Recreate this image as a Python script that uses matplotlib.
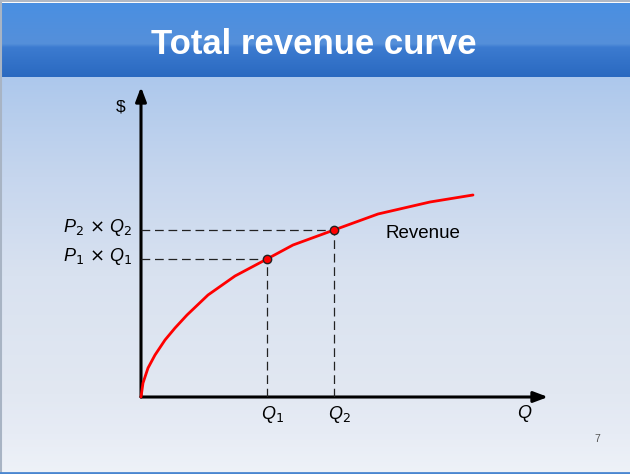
import numpy as np
import matplotlib
matplotlib.use("Agg")
import matplotlib.pyplot as plt
from matplotlib.colors import LinearSegmentedColormap

# ---- data (arbitrary units) ----
quantity = [0, 2, 7, 14, 24, 34, 46, 67, 94, 126, 152, 193, 237, 289, 332]
revenue = [0, 14, 29, 42, 57, 69, 82, 102, 121, 138, 152, 167, 183, 195, 202]
marked_idx = [9, 11]
q_labels = [r"$Q_1$", r"$Q_2$"]
pq_labels = [r"$P_1\,\times\,Q_1$", r"$P_2\,\times\,Q_2$"]
title = "Total revenue curve"
curve_label = "Revenue"

plt.rcParams["font.family"] = ["Liberation Sans", "DejaVu Sans"]
plt.rcParams["mathtext.fontset"] = "custom"
plt.rcParams["mathtext.rm"] = "DejaVu Sans"
plt.rcParams["mathtext.it"] = "Liberation Sans:italic"
plt.rcParams["mathtext.bf"] = "Liberation Sans:bold"

W, H = 630, 474
fig = plt.figure(figsize=(6.3, 4.74), dpi=100)

# ---- background (pixel coordinates) ----
bg = fig.add_axes([0, 0, 1, 1])
bg.set_xlim(0, W)
bg.set_ylim(H, 0)
bg.axis("off")

body_cmap = LinearSegmentedColormap.from_list(
    "body",
    [(0.0, "#adc8ec"), (0.25, "#c6d6ee"), (0.5, "#d9e2f0"), (0.8, "#e2e8f2"),
     (0.9, "#e7ecf5"), (1.0, "#eef2f8")])
grad = np.linspace(0, 1, 256).reshape(-1, 1)
bg.imshow(grad, cmap=body_cmap, extent=[0, W, H, 77], aspect="auto", zorder=0)

title_cmap = LinearSegmentedColormap.from_list(
    "title",
    [(0.0, "#4a8fe2"), (0.55, "#5590da"), (0.6, "#3c7bd0"), (1.0, "#2a69c0")])
bg.imshow(grad, cmap=title_cmap, extent=[0, W, 77, 3], aspect="auto", zorder=1)
bg.set_xlim(0, W)
bg.set_ylim(H, 0)

# borders
bg.plot([1, 1], [0, H], color="#a8b4c4", lw=1.5, zorder=2)
bg.plot([0, W], [1, 1], color="#b0b8c4", lw=1.5, zorder=2)
bg.plot([0, W], [H - 1.5, H - 1.5], color="#4a86d0", lw=2, zorder=2)

bg.text(314, 54, title, color="white", fontsize=25, fontweight="bold",
        ha="center", va="baseline", zorder=3)
bg.text(121, 107, "$", fontsize=12.5, ha="center", va="center", zorder=3)
bg.text(525, 418, r"$Q$", fontsize=13, ha="center", va="baseline", zorder=3)
bg.text(597, 442, "7", fontsize=7.5, color="#555555", ha="center",
        va="baseline", zorder=3)

# ---- chart axes ----
x0, y0 = 141, 397
x1, y1 = 548, 87
ax = fig.add_axes([x0 / W, (H - y0) / H, (x1 - x0) / W, (y0 - y1) / H])
ax.set_xlim(0, x1 - x0)
ax.set_ylim(0, y0 - y1)
ax.axis("off")
ax.patch.set_alpha(0)

arrow_kw = dict(arrowstyle="-|>,head_length=0.85,head_width=0.32",
                lw=2.2, color="black", shrinkA=0, shrinkB=0)
ax.annotate("", xy=(1, 0), xytext=(0, 0), xycoords="axes fraction",
            arrowprops=arrow_kw, annotation_clip=False)
ax.annotate("", xy=(0, 1), xytext=(0, 0), xycoords="axes fraction",
            arrowprops=arrow_kw, annotation_clip=False)

ax.plot(quantity, revenue, color="#ff0000", lw=2.0, solid_capstyle="round",
        solid_joinstyle="round", zorder=4, clip_on=False)

for i, ql, pl in zip(marked_idx, q_labels, pq_labels):
    q, r = quantity[i], revenue[i]
    ax.plot([0, q], [r, r], color="#222222", lw=0.9, ls=(0, (7, 3.8)), zorder=3)
    ax.plot([q, q], [0, r], color="#222222", lw=0.9, ls=(0, (7, 3.8)), zorder=3)
    ax.plot([q], [r], marker="o", ms=6, mfc="#ff0000", mec="#222222",
            mew=1.0, zorder=5, clip_on=False)
    ax.annotate(ql, xy=(q, 0), xytext=(-4.2, -15.5), textcoords="offset points",
                ha="left", va="baseline", fontsize=13, annotation_clip=False)
    ax.annotate(pl, xy=(0, r), xytext=(-6, -1.5), textcoords="offset points",
                ha="right", va="baseline", fontsize=13, annotation_clip=False)

ax.annotate(curve_label, xy=(quantity[marked_idx[1]], revenue[marked_idx[1]]),
            xytext=(37, -6), textcoords="offset points", ha="left",
            va="baseline", fontsize=13.5)

fig.savefig("out.png", dpi=100)
